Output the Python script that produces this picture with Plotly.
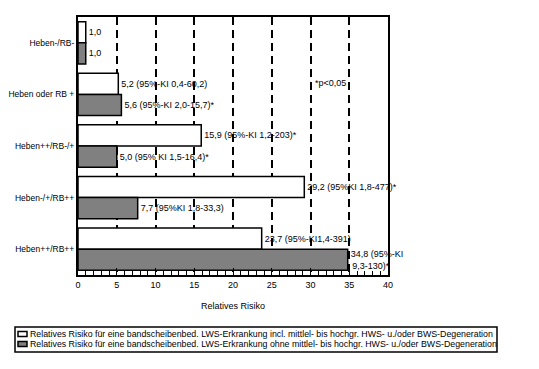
import plotly.graph_objects as go

categories = ["Heben-/RB-", "Heben oder RB +", "Heben++/RB-/+", "Heben-/+/RB++", "Heben++/RB++"]
incl_values = [1.0, 5.2, 15.9, 29.2, 23.7]
ohne_values = [1.0, 5.6, 5.0, 7.7, 34.8]
incl_labels = ["1,0", "5,2 (95%-KI 0,4-60,2)", "15,9 (95%-KI 1,2-203)*",
               "29,2 (95%KI 1,8-477)*", "23,7 (95%-KI1,4-391)"]
ohne_labels = ["1,0", "5,6 (95%-KI 2,0-15,7)*", "5,0 (95% KI 1,5-16,4)*",
               "7,7 (95%KI 1,8-33,3)", "34,8 (95%-KI<br>9,3-130)*\u00a0\u00a0\u00a0\u00a0\u00a0"]
series_names = [
    "Relatives Risiko für eine bandscheibenbed. LWS-Erkrankung incl. mittlel- bis hochgr. HWS- u./oder BWS-Degeneration",
    "Relatives Risiko für eine bandscheibenbed. LWS-Erkrankung ohne mittlel- bis hochgr. HWS- u./oder BWS-Degeneration",
]
series_colors = ["white", "#808080"]
x_ticks = [0, 5, 10, 15, 20, 25, 30, 35, 40]

FONT = "Liberation Sans, Arial, sans-serif"

fig = go.Figure()
for vals, labels, name, color in [(incl_values, incl_labels, series_names[0], series_colors[0]),
                                  (ohne_values, ohne_labels, series_names[1], series_colors[1])]:
    fig.add_trace(go.Bar(
        y=categories, x=vals, orientation="h", name=name,
        marker=dict(color=color, line=dict(color="black", width=1.5)),
        text=labels, textposition="outside", constraintext="none", cliponaxis=False,
        textfont=dict(size=9, color="black", family=FONT),
        showlegend=False,
    ))

fig.add_annotation(x=30.3, y=0.78, xref="x", yref="y", text="*p<0,05", showarrow=False,
                   xanchor="left", font=dict(size=9, color="black", family=FONT))

# custom legend (paper coordinates; plot area spans x 78..388 px, y 17..275 px in the window)
def px(x):
    return (x - 78) / 310.0

def py(y):
    return (275 - y) / 258.0

shapes = [dict(type="rect", xref="paper", yref="paper",
               x0=px(15), x1=px(497), y0=py(352), y1=py(327),
               line=dict(color="black", width=1.5), fillcolor="white")]
annotations = []
for i, (name, color) in enumerate(zip(series_names, series_colors)):
    yc = 334 + i * 10
    shapes.append(dict(type="rect", xref="paper", yref="paper",
                       x0=px(18), x1=px(27), y0=py(yc + 2.5), y1=py(yc - 2.5),
                       line=dict(color="black", width=1.5), fillcolor=color))
    annotations.append(dict(x=px(28), y=py(yc), xref="paper", yref="paper",
                            text=name, showarrow=False, xanchor="left", yanchor="middle",
                            font=dict(size=8.8, color="black", family=FONT)))

# the page body has an 8px default margin, so the figure is shifted by 8px
fig.update_layout(
    width=531, height=361,
    margin=dict(l=70, r=151, t=9, b=94),
    paper_bgcolor="white", plot_bgcolor="white",
    barmode="group", bargap=0.18, bargroupgap=0.0,
    font=dict(family=FONT, size=9, color="black"),
    showlegend=False,
    shapes=shapes,
    xaxis=dict(range=[0, 40], tickvals=x_ticks, ticktext=[str(v) for v in x_ticks],
               automargin=False,
               showgrid=True, gridcolor="black", gridwidth=2, griddash="8px,5px",
               zeroline=False, showline=True, linecolor="black", linewidth=2, mirror=True,
               ticks="inside", ticklen=7, tickwidth=1, tickcolor="black",
               minor=dict(dtick=1, ticks="inside", ticklen=4, tickcolor="black", showgrid=False),
               tickfont=dict(size=9, color="black"),
               title=dict(text="Relatives Risiko", font=dict(size=9, color="black"), standoff=14)),
    yaxis=dict(autorange="reversed", showgrid=False, zeroline=False, automargin=False,
               showline=True, linecolor="black", linewidth=2, mirror=True,
               ticks="", ticklen=0, tickfont=dict(size=8.5, color="black")),
)
for a in annotations:
    fig.add_annotation(**a)

fig.write_html("out.html")
